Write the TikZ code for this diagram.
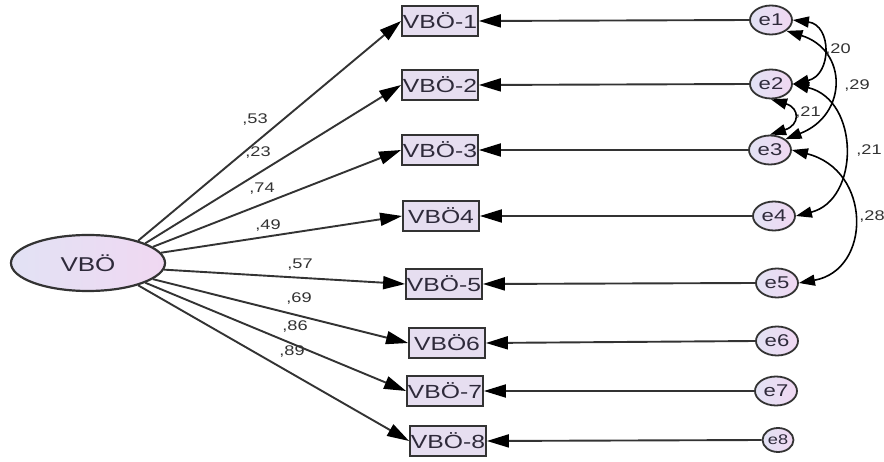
\documentclass[tikz,border=0pt]{standalone}
\usepackage{fontspec}
\setmainfont[FakeStretch=1.3]{Liberation Sans}
\usetikzlibrary{arrows.meta,shapes.geometric}
\definecolor{linegray}{HTML}{333333}
\definecolor{boxfill}{HTML}{E6DEF0}
\definecolor{lavL}{HTML}{E2E2F4}
\definecolor{lavR}{HTML}{F0D8F2}
\definecolor{txt}{HTML}{2E2A3A}
\begin{document}
\begin{tikzpicture}[x=1pt,y=-1pt,
  obs/.style={draw=linegray,line width=1.8pt,fill=boxfill,minimum width=76pt,minimum height=30pt,inner sep=0pt,text=txt,font=\fontsize{19}{19}\selectfont},
  err/.style={ellipse,draw=linegray,line width=1.8pt,left color=lavL,right color=lavR,minimum width=42pt,minimum height=29pt,inner sep=0pt,text=txt,font=\fontsize{17}{17}\selectfont},
  lat/.style={ellipse,draw=linegray,line width=2.2pt,left color=lavL,right color=lavR,minimum width=154pt,minimum height=56pt,inner sep=0pt,text=txt,font=\fontsize{20}{20}\selectfont},
  path/.style={draw=linegray,line width=1.9pt,-{Triangle[length=22pt,width=13pt,color=black]}},
  cov/.style={draw=black,line width=1.6pt,{Triangle[length=16pt,width=11pt]}-{Triangle[length=16pt,width=11pt]}},
  coef/.style={font=\fontsize{14}{14}\selectfont,text=linegray,inner sep=0pt}
]
\useasboundingbox (0,0) rectangle (884,462);
\fill[white] (0,0) rectangle (884,462);

\node[lat] (V) at (88,263) {VBÖ};

\node[obs] (b1) at (440,21) {VBÖ-1};
\node[obs] (b2) at (440,85) {VBÖ-2};
\node[obs] (b3) at (440,150) {VBÖ-3};
\node[obs] (b4) at (441,216) {VBÖ4};
\node[obs] (b5) at (444,284) {VBÖ-5};
\node[obs] (b6) at (447,343) {VBÖ6};
\node[obs] (b7) at (445,391) {VBÖ-7};
\node[obs] (b8) at (448,441) {VBÖ-8};

\node[err] (e1) at (771,20) {e1};
\node[err] (e2) at (771,84) {e2};
\node[err] (e3) at (770,150) {e3};
\node[err] (e4) at (774,216) {e4};
\node[err] (e5) at (777,283) {e5};
\node[err] (e6) at (777,341) {e6};
\node[err] (e7) at (776,391) {e7};
\node[err,minimum width=31pt,minimum height=24pt,font=\fontsize{14}{14}\selectfont] (e8) at (778,440) {e8};

\foreach \i/\a in {1/24,2/19,3/14,4/8,5/-5,6/-14,7/-19,8/-24}{
  \draw[path] (V.\a) -- (b\i.west);
  \draw[path] (e\i.west) -- (b\i.east);
}

\node[coef] (c1) at (255,120) {,53};
\node[coef] (c2) at (258,153) {,23};
\node[coef] (c3) at (262,189) {,74};
\node[coef] (c4) at (268,226) {,49};
\node[coef] (c5) at (300,265) {,57};
\node[coef] (c6) at (299,299) {,69};
\node[coef] (c7) at (295,327) {,86};
\node[coef] (c8) at (292,352) {,89};

% covariances
\draw[cov] (e1.east) .. controls (832,25) and (832,75) .. (e2.east);
\draw[cov] (e1.south east) .. controls (848,50) and (848,115) .. (e3.north east);
\draw[cov] (e2.south) .. controls (800,108) and (800,125) .. (e3.north);
\draw[cov] (e2.east) .. controls (860,100) and (860,200) .. (e4.east);
\draw[cov] (e3.east) .. controls (872,170) and (872,270) .. (e5.east);

\node[coef] (k1) at (838,50) {,20};
\node[coef] (k2) at (857,86) {,29};
\node[coef] (k3) at (808,113) {,21};
\node[coef] (k4) at (869,151) {,21};
\node[coef] (k5) at (872,217) {,28};
\end{tikzpicture}
\end{document}
